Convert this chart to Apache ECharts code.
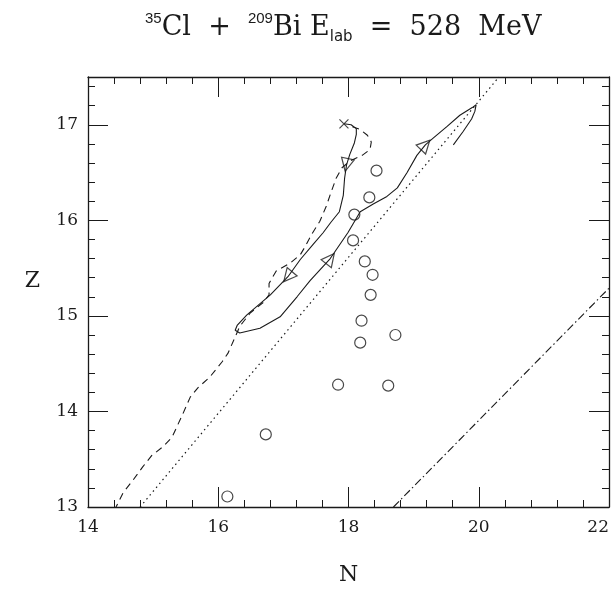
<!DOCTYPE html>
<html>
<head>
<meta charset="UTF-8" />
<script type="text/javascript" src="https://cdn.jsdelivr.net/npm/echarts@6/dist/echarts.min.js"></script>
<style>
  html, body { margin: 0; padding: 0; background: #fff; }
  #chartmain { width: 613px; height: 595px; }
</style>
</head>
<body>
<div id="chartmain"></div>
<script type="text/javascript">
// trajectory in the (N, Z) plane
var solidPath = [
  [17.93, 17.01], [18.04, 17.00], [18.12, 16.96], [18.12, 16.90], [18.09, 16.81],
  [18.02, 16.69], [17.97, 16.58], [17.94, 16.44], [17.92, 16.26], [17.86, 16.09],
  [17.73, 15.98], [17.61, 15.87], [17.46, 15.75], [17.26, 15.59], [17.07, 15.41],
  [16.80, 15.22], [16.44, 15.01], [16.29, 14.90], [16.26, 14.85], [16.33, 14.82],
  [16.64, 14.87], [16.95, 14.99], [17.21, 15.20], [17.41, 15.37], [17.72, 15.60],
  [17.99, 15.87], [18.18, 16.09], [18.38, 16.17], [18.59, 16.25], [18.75, 16.34],
  [18.90, 16.50], [19.05, 16.68], [19.18, 16.79], [19.30, 16.86], [19.51, 16.98],
  [19.71, 17.10], [19.90, 17.18], [19.96, 17.21], [19.94, 17.14], [19.89, 17.06],
  [19.76, 16.93], [19.61, 16.79]
];
// points of solidPath that carry a direction arrow
var arrowAt = [6, 14, 24, 32];

var dashedPath = [
  [18.06, 16.98], [18.18, 16.95], [18.29, 16.89], [18.35, 16.82], [18.33, 16.74],
  [18.21, 16.68], [18.02, 16.62], [17.90, 16.55], [17.81, 16.44], [17.73, 16.29],
  [17.66, 16.15], [17.56, 15.99], [17.44, 15.86], [17.33, 15.72], [17.26, 15.64],
  [17.10, 15.55], [16.89, 15.47], [16.78, 15.34], [16.78, 15.22], [16.69, 15.14],
  [16.49, 15.03], [16.33, 14.89], [16.26, 14.78], [16.15, 14.61], [16.06, 14.52],
  [15.87, 14.36], [15.69, 14.25], [15.57, 14.15], [15.46, 13.98], [15.29, 13.73],
  [15.15, 13.63], [14.98, 13.54], [14.84, 13.42], [14.69, 13.28], [14.54, 13.15],
  [14.43, 13.00]
];

var dottedLine = [[14.80, 13.00], [20.31, 17.50]];
var dashDotLine = [[18.69, 13.00], [22.00, 15.29]];

var circles = [
  [18.43, 16.52], [18.32, 16.24], [18.09, 16.06], [18.07, 15.79], [18.25, 15.57],
  [18.37, 15.43], [18.34, 15.22], [18.20, 14.95], [18.18, 14.72], [18.72, 14.80],
  [17.84, 14.28], [18.61, 14.27], [16.73, 13.76], [16.14, 13.11]
];
var crosses = [[17.93, 17.01]];

var ink = '#1a1a1a';
var serif = 'DejaVu Serif';

function frameAxis(extra) {
  var ax = {
    type: 'value',
    axisLine: { show: true, onZero: false, lineStyle: { color: ink, width: 1.3 } },
    axisTick: { show: true, inside: true, length: 20, lineStyle: { color: ink, width: 1 } },
    minorTick: { show: true, splitNumber: 5, length: 7, lineStyle: { color: ink, width: 1 } },
    splitLine: { show: false },
    minorSplitLine: { show: false },
    axisLabel: { show: false }
  };
  for (var k in extra) ax[k] = extra[k];
  return ax;
}

var myChart = echarts.init(document.getElementById('chartmain'));

var option = {
  animation: false,
  backgroundColor: '#fff',
  title: {
    left: 145,
    top: 11,
    padding: 0,
    text: '{sup|35}{m|Cl  +  }{sup|209}{m|Bi E}{sub|lab}{m|  =  528  MeV}',
    textStyle: {
      fontWeight: 'normal',
      rich: {
        m: { fontFamily: serif, fontSize: 27, fontWeight: 'normal', color: ink, lineHeight: 34, verticalAlign: 'middle' },
        sup: { fontFamily: 'Liberation Sans', fontSize: 15, fontWeight: 'normal', color: ink, lineHeight: 17, verticalAlign: 'top' },
        sub: { fontFamily: 'DejaVu Sans', fontSize: 15, fontWeight: 'normal', color: ink, lineHeight: 15, verticalAlign: 'bottom' }
      }
    }
  },
  grid: { left: 88, right: 4, top: 77, bottom: 88, outerBoundsMode: 'none' },
  xAxis: [
    frameAxis({
      position: 'bottom', min: 14, max: 22, interval: 2,
      name: 'N', nameLocation: 'middle', nameGap: 57,
      nameTextStyle: { fontFamily: serif, fontSize: 22, color: ink },
      axisLabel: { show: true, fontFamily: serif, fontSize: 17, color: ink, margin: 12, alignMaxLabel: 'right' }
    }),
    frameAxis({ position: 'top', min: 14, max: 22, interval: 2 })
  ],
  yAxis: [
    frameAxis({
      position: 'left', min: 13, max: 17.5, interval: 1,
      name: 'Z', nameLocation: 'middle', nameGap: 48, nameRotate: 0,
      nameTextStyle: { fontFamily: serif, fontSize: 22, color: ink, verticalAlign: 'bottom' },
      axisLabel: { show: true, fontFamily: serif, fontSize: 17, color: ink, margin: 10, showMaxLabel: false }
    }),
    frameAxis({ position: 'right', min: 13, max: 17.5, interval: 1 })
  ],
  series: [
    {
      id: 'dotted', type: 'line', data: dottedLine, showSymbol: false, silent: true,
      lineStyle: { color: ink, width: 1.2, type: [1.5, 3.5] }
    },
    {
      id: 'dashdot', type: 'line', data: dashDotLine, showSymbol: false, silent: true,
      lineStyle: { color: ink, width: 1.1, type: [8, 3, 1.5, 3] }
    },
    {
      id: 'dashed', type: 'line', data: dashedPath, showSymbol: false, silent: true,
      lineStyle: { color: ink, width: 1.1, type: [7, 5] }
    },
    {
      id: 'solid', type: 'line', data: solidPath, showSymbol: false, silent: true,
      lineStyle: { color: ink, width: 1.1 }
    },
    {
      id: 'circles', type: 'scatter', data: circles, symbol: 'circle', symbolSize: 11,
      itemStyle: { color: 'rgba(0,0,0,0)', borderColor: ink, borderWidth: 1.2 }
    },
    {
      id: 'cross', type: 'scatter', data: crosses, symbol: 'path://M0,0L10,10M10,0L0,10', symbolSize: 9,
      itemStyle: { color: 'none', borderColor: ink, borderWidth: 1.2 }
    },
    {
      id: 'arrows', type: 'scatter', data: [], symbol: 'triangle', symbolSize: [13, 13],
      itemStyle: { color: 'rgba(0,0,0,0)', borderColor: ink, borderWidth: 1.2 }
    }
  ]
};

myChart.setOption(option);

// turn each arrow along the local direction of the path (in pixels)
var arrowData = arrowAt.map(function (i) {
  var a = myChart.convertToPixel({ seriesId: 'solid' }, solidPath[i - 1]);
  var b = myChart.convertToPixel({ seriesId: 'solid' }, solidPath[i + 1]);
  var deg = Math.atan2(-(b[1] - a[1]), b[0] - a[0]) * 180 / Math.PI - 90;
  return { value: solidPath[i], symbolRotate: deg };
});
myChart.setOption({ series: [{ id: 'arrows', data: arrowData }] });
</script>
</body>
</html>
